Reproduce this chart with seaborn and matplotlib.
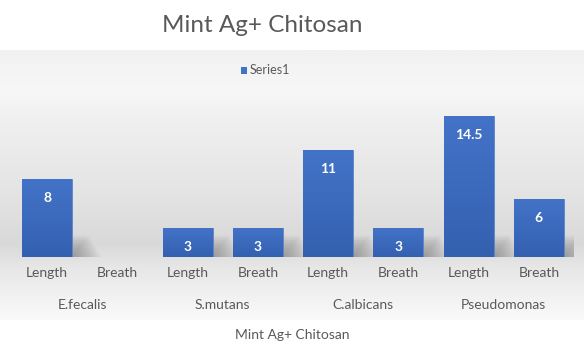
import numpy as np
import pandas as pd
import matplotlib
matplotlib.use("Agg")
import matplotlib.pyplot as plt
import matplotlib.transforms as mtrans
from matplotlib.colors import LinearSegmentedColormap
from matplotlib.patches import Rectangle, Polygon
import seaborn as sns

# ---- data ----
organisms = ["E.fecalis", "S.mutans", "C.albicans", "Pseudomonas"]
measures = ["Length", "Breath"]
series1 = [8, np.nan, 3, 3, 11, 3, 14.5, 6]
value_labels = ["8", "", "3", "3", "11", "3", "14.5", "6"]
title = "Mint Ag+ Chitosan"
axis_title = "Mint Ag+ Chitosan"
series_name = "Series1"

df = pd.DataFrame({
    "pos": list(range(len(series1))),
    "value": series1,
})

sns.set_theme(style="white")
plt.rcParams["font.family"] = ["Lato", "DejaVu Sans"]

W, H = 584, 352
fig = plt.figure(figsize=(W / 100, H / 100), dpi=100)
fig.patch.set_facecolor("white")

# background gradient band (figure pixel rows 50..320)
bg = fig.add_axes([0, 1 - 320 / H, 1, 270 / H], zorder=0)
stops = [(0.0, "#f1f1f1"), (0.15, "#f7f7f7"), (0.25, "#f0f0f0"), (0.55, "#e3e3e3"),
         (0.72, "#d9d9d9"), (0.80, "#e6e6e6"), (1.0, "#fafafa")]
cmap = LinearSegmentedColormap.from_list("bg", stops)
grad = np.linspace(0, 1, 256).reshape(-1, 1)
bg.imshow(grad, aspect="auto", cmap=cmap, extent=[0, 1, 0, 1], origin="upper")
bg.set_axis_off()

# main axes: baseline at pixel row 257, top at row 50
px_per_unit = 9.75
ax = fig.add_axes([12 / W, 1 - 257 / H, 562 / W, 207 / H], zorder=1)
ax.set_facecolor("none")
sns.barplot(data=df, x="pos", y="value", color="#4472c4", saturation=1,
            width=0.71, ax=ax, edgecolor="#5b84cc", linewidth=0.6, zorder=3)

bar_cmap = LinearSegmentedColormap.from_list("bar", ["#4373c8", "#3460b0"])
sw, shh, nlayers = 0.42, 2.2, 14
for p in list(ax.patches):
    h = p.get_height()
    if not np.isfinite(h) or h <= 0:
        continue
    x0, w = p.get_x(), p.get_width()
    xr = x0 + w
    hmax = min(shh, h * 0.75)
    # soft shadow: stacked translucent wedges, darkest at the bar's foot
    for k in range(nlayers):
        f = 1 - k / nlayers
        wk, hk = sw * f, hmax * f
        poly = Polygon([(xr - 0.02, 0), (xr + wk, 0), (xr + wk * 0.55, hk),
                        (xr - 0.02, hk)], closed=True, facecolor="#555555",
                       edgecolor="none", alpha=0.045, zorder=2)
        ax.add_patch(poly)
    im = ax.imshow(np.linspace(0, 1, 64).reshape(-1, 1), cmap=bar_cmap, aspect="auto",
                   extent=[x0, x0 + w, 0, h], origin="upper", zorder=3.5)
    im.set_clip_path(p)

ax.set_ylim(0, 207 / px_per_unit)
ax.set_xlim(-0.5, len(series1) - 0.5)

for i, (v, lab) in enumerate(zip(series1, value_labels)):
    if lab:
        ax.annotate(lab, (i, v), xytext=(0, -14), textcoords="offset points",
                    ha="center", va="center", color="white", fontsize=10,
                    fontweight="bold", zorder=5)

ax.set_xticks(range(len(series1)))
ax.set_xticklabels([measures[i % 2] for i in range(len(series1))],
                   color="#595959", fontsize=10)
ax.tick_params(axis="x", length=0, pad=7)
ax.set_yticks([])
ax.set_xlabel("")
ax.set_ylabel("")
for s in ax.spines.values():
    s.set_visible(False)

trans = mtrans.blended_transform_factory(ax.transData, fig.transFigure)
for g, name in enumerate(organisms):
    ax.text(2 * g + 0.5, 1 - 305 / H, name, transform=trans, ha="center",
            va="center", color="#595959", fontsize=10)

fig.text(292 / W, 1 - 335 / H, axis_title, ha="center", va="center",
         color="#595959", fontsize=10)
fig.text(262 / W, 1 - 26 / H, title, ha="center", va="center",
         color="#595959", fontsize=17.5)

# legend
fig.patches.append(Rectangle((241 / W, 1 - 73.5 / H), 6 / W, 6 / H,
                             transform=fig.transFigure, facecolor="#4472c4",
                             edgecolor="none", zorder=5))
fig.text(250 / W, 1 - 70.5 / H, series_name, ha="left", va="center",
         color="#595959", fontsize=9)

fig.savefig("out.png", dpi=100)
